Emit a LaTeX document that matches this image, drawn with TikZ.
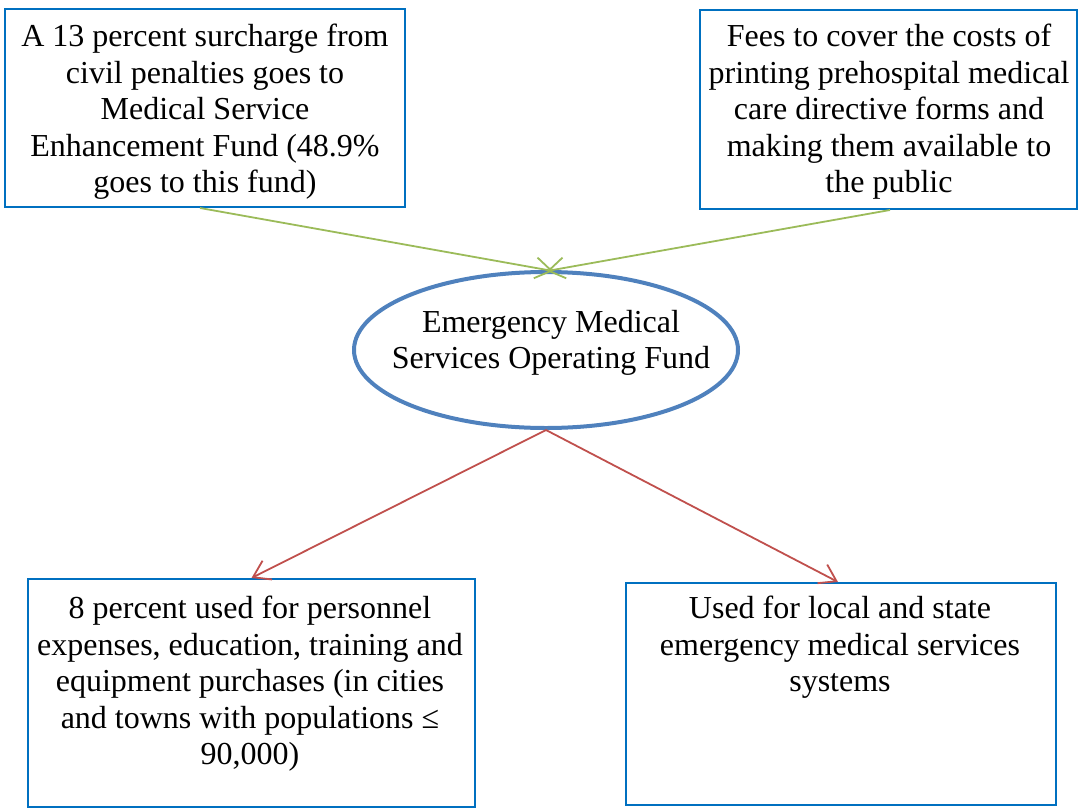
\documentclass[tikz,border=0pt]{standalone}
\usepackage{fontspec}
\setmainfont{Liberation Serif}
\usetikzlibrary{shapes.geometric,arrows.meta}
\definecolor{boxblue}{RGB}{0,112,192}
\definecolor{ellblue}{RGB}{79,129,189}
\definecolor{lgreen}{RGB}{155,187,89}
\definecolor{dred}{RGB}{192,80,77}
\tikzset{
  box/.style={draw=boxblue, line width=2pt, rectangle, inner sep=0pt},
  txt/.style={align=center, inner sep=0pt, font=\fontsize{32}{36.5}\selectfont},
  inarrow/.style={draw=lgreen, line width=1.8pt, -{Straight Barb[length=16pt,width=21pt]}},
  outarrow/.style={draw=dred, line width=1.8pt, -{Straight Barb[length=16pt,width=21pt]}},
}
\begin{document}
\begin{tikzpicture}[x=1pt,y=-1pt]
\useasboundingbox (0,0) rectangle (1081,809);
\node[box, minimum width=400pt, minimum height=198pt] (tl) at (205,108) {};
\node[txt] (tlt) at (205,112) {A 13 percent surcharge from\\civil penalties goes to\\Medical Service\\Enhancement Fund (48.9\%\\goes to this fund)};
\node[box, minimum width=377pt, minimum height=199pt] (tr) at (888.5,109.5) {};
\node[txt] (trt) at (889,112) {Fees to cover the costs of\\printing prehospital medical\\care directive forms and\\making them available to\\the public};
\node[draw=ellblue, line width=4pt, ellipse, minimum width=384pt, minimum height=156pt, inner sep=0pt] (ell) at (546,350) {};
\node[txt] (ellt) at (551,343) {Emergency Medical\\Services Operating Fund};
\node[box, minimum width=447pt, minimum height=228pt] (bl) at (251.5,693) {};
\node[txt, anchor=north] (blt) at (250,596) {8 percent used for personnel\\expenses, education, training and\\equipment purchases (in cities\\and towns with populations ≤\\90,000)};
\node[box, minimum width=430pt, minimum height=222pt] (br) at (841,694) {};
\node[txt, anchor=north] (brt) at (840,596) {Used for local and state\\emergency medical services\\systems};
\coordinate (tlout) at (200,208);
\coordinate (trout) at (890,210);
\coordinate (inA) at (553,271);
\coordinate (inB) at (547,271);
\coordinate (brin) at (838,582);
\draw[inarrow] (tlout) -- (inA);
\draw[inarrow] (trout) -- (inB);
\draw[outarrow] (ell.south) -- (bl.north);
\draw[outarrow] (ell.south) -- (brin);
\end{tikzpicture}
\end{document}
